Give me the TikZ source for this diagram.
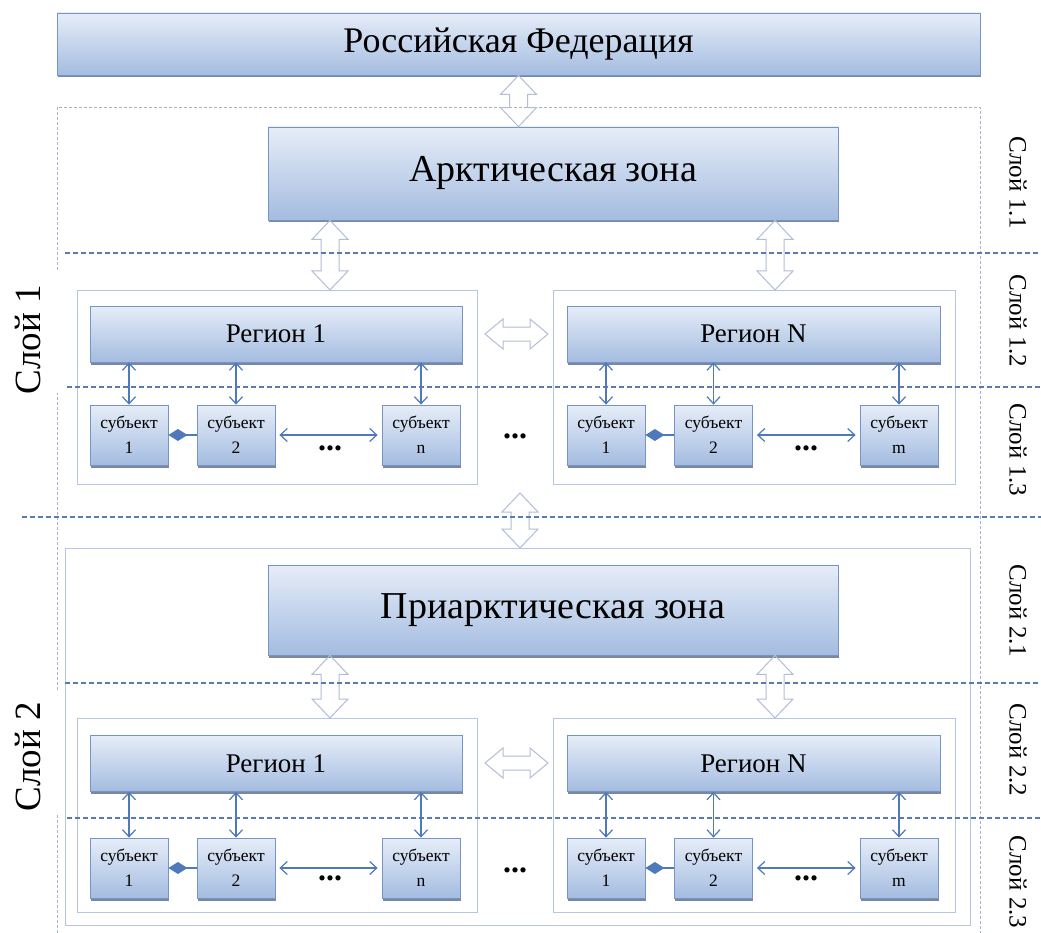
\documentclass[tikz,border=0pt]{standalone}
\usepackage{fontspec}
\setmainfont{Liberation Serif}
\usetikzlibrary{arrows.meta,shadows,calc}
\definecolor{boxtop}{RGB}{230,237,248}
\definecolor{boxbot}{RGB}{164,188,224}
\definecolor{boxline}{RGB}{118,148,198}
\definecolor{shadowc}{RGB}{80,95,125}
\definecolor{contline}{RGB}{182,197,224}
\definecolor{outerline}{RGB}{165,178,205}
\definecolor{layerline}{RGB}{88,122,178}
\definecolor{arrowc}{RGB}{78,122,188}
\definecolor{hollowc}{RGB}{178,190,214}
\newcommand\hollowV[2]{\draw[hollow] let \p1=(#1), \p2=(#2) in
 (\x1,\y1) -- (\x1+18pt,\y1-19pt) -- (\x1+9pt,\y1-19pt) -- (\x1+9pt,\y2+19pt) -- (\x1+18pt,\y2+19pt) -- (\x1,\y2)
 -- (\x1-18pt,\y2+19pt) -- (\x1-9pt,\y2+19pt) -- (\x1-9pt,\y1-19pt) -- (\x1-18pt,\y1-19pt) -- cycle;}
\newcommand\hollowH[2]{\draw[hollow] let \p1=(#1), \p2=(#2) in
 (\x1,\y1) -- (\x1+18pt,\y1+15pt) -- (\x1+18pt,\y1+7pt) -- (\x2-18pt,\y1+7pt) -- (\x2-18pt,\y1+15pt) -- (\x2,\y1)
 -- (\x2-18pt,\y1-15pt) -- (\x2-18pt,\y1-7pt) -- (\x1+18pt,\y1-7pt) -- (\x1+18pt,\y1-15pt) -- cycle;}
\begin{document}
\begin{tikzpicture}[x=1pt,y=-1pt,
 box/.style={draw=boxline, line width=0.8pt, top color=boxtop, bottom color=boxbot,
   drop shadow={shadow xshift=0.5pt, shadow yshift=-2.5pt, fill=shadowc, opacity=0.75},
   inner sep=0pt, text=black, align=center},
 bigbox/.style={box, font=\fontsize{36}{40}\selectfont},
 regbox/.style={box, minimum height=56pt, font=\fontsize{27}{30}\selectfont},
 subbox/.style={box, minimum width=78pt, minimum height=60pt, font=\fontsize{17.5}{25}\selectfont},
 container/.style={draw=contline, line width=0.9pt},
 outer/.style={draw=outerline, line width=0.7pt, dash pattern=on 3pt off 2pt},
 layer/.style={draw=layerline, line width=1.1pt, dash pattern=on 5pt off 3pt},
 hollow/.style={draw=hollowc, line width=1pt, line join=miter},
 thin/.style={draw=arrowc, line width=1.2pt, {Straight Barb[length=7pt,width=13pt,line width=1.2pt]}-{Straight Barb[length=7pt,width=13pt,line width=1.2pt]}},
 diam/.style={draw=arrowc, line width=1.2pt, {Diamond[length=19pt,width=12pt]}-},
 dots/.style={font=\bfseries\fontsize{32}{32}\selectfont, inner sep=0pt},
 lbig/.style={rotate=90, font=\fontsize{37}{40}\selectfont, inner sep=0pt},
 lsmall/.style={rotate=-90, font=\fontsize{25}{27}\selectfont, inner sep=0pt}
]
\useasboundingbox (0,0) rectangle (1041,933);
\fill[white] (0,0) rectangle (1041,933);

% outer frames
\draw[outer] (57,933) -- (57,813);
\draw[outer] (57,690) -- (57,393);
\draw[outer] (57,270) -- (57,107) -- (980,107) -- (980,933);
\draw[container] (65,548) rectangle (970,925);

% containers
\draw[container] (77,290) rectangle (477,484);
\draw[container] (553,290) rectangle (955,484);
\draw[container] (77,718) rectangle (477,912);
\draw[container] (553,718) rectangle (955,912);
\coordinate (c1t) at (277,290);
\coordinate (cNt) at (754,290);
\coordinate (c1b) at (277,718);
\coordinate (cNb) at (754,718);
\coordinate (c1e) at (477,334);
\coordinate (cNw) at (553,334);
\coordinate (c1e2) at (477,763);
\coordinate (cNw2) at (553,763);
\coordinate (l1bot) at (520,493);
\coordinate (l2top) at (520,548);
\coordinate (ax1) at (330,0);
\coordinate (ax2) at (775,0);

% main boxes
\node[bigbox, minimum width=923pt, minimum height=62pt] (rf) at (518.5,44) {Российская Федерация};
\node[bigbox, minimum width=570pt, minimum height=93pt, font=\fontsize{38}{40}\selectfont] (arc) at (553,173.5) {Арктическая зона};
\node[bigbox, minimum width=570pt, minimum height=90pt, font=\fontsize{38}{40}\selectfont] (parc) at (553,610) {Приарктическая зона};

% layer 1 regions
\node[regbox, minimum width=372pt] (r1) at (276,334) {Регион 1};
\node[regbox, minimum width=373pt] (rN) at (753.5,334) {Регион N};
\node[subbox] (a1) at (129,435) {субъект\\1};
\node[subbox] (a2) at (236,435) {субъект\\2};
\node[subbox] (an) at (421,435) {субъект\\n};
\node[subbox] (b1) at (606,435) {субъект\\1};
\node[subbox] (b2) at (713.5,435) {субъект\\2};
\node[subbox] (bm) at (899,435) {субъект\\m};

% layer 2 regions
\node[regbox, minimum width=372pt] (q1) at (276,763.5) {Регион 1};
\node[regbox, minimum width=373pt] (qN) at (753.5,763.5) {Регион N};
\node[subbox] (d1) at (129,868) {субъект\\1};
\node[subbox] (d2) at (236,868) {субъект\\2};
\node[subbox] (dn) at (421,868) {субъект\\n};
\node[subbox] (e1) at (606,868) {субъект\\1};
\node[subbox] (e2) at (713.5,868) {субъект\\2};
\node[subbox] (em) at (899,868) {субъект\\m};

% dots
\node[dots] (t1) at (330,448) {...};
\node[dots] (t2) at (515,436) {...};
\node[dots] (t3) at (806,448) {...};
\node[dots] (t4) at (330,878) {...};
\node[dots] (t5) at (515,870) {...};
\node[dots] (t6) at (806,878) {...};

% hollow arrows
\hollowV{rf.south}{arc.north -| rf.south}
\hollowV{arc.south -| ax1}{c1t -| ax1}
\hollowV{arc.south -| ax2}{cNt -| ax2}
\hollowV{l1bot}{l2top}
\hollowV{parc.south -| ax1}{c1b -| ax1}
\hollowV{parc.south -| ax2}{cNb -| ax2}
\hollowH{$(c1e)+(8,0)$}{$(cNw)+(-5,0)$}
\hollowH{$(c1e2)+(8,0)$}{$(cNw2)+(-5,0)$}

% thin arrows
\foreach \s/\r in {a1/r1,a2/r1,an/r1,b1/rN,b2/rN,bm/rN,d1/q1,d2/q1,dn/q1,e1/qN,e2/qN,em/qN}
  \draw[thin] (\s.north |- \r.south) -- (\s.north);
\foreach \p/\q in {a2/an,b2/bm,d2/dn,e2/em}
  \draw[thin, shorten <=4pt, shorten >=4pt] (\p) -- (\q);
\foreach \p/\q in {a1/a2,b1/b2,d1/d2,e1/e2}
  \draw[diam] (\p) -- (\q);

% layer dashed lines
\draw[layer] (65,253) -- (1041,253);
\draw[layer] (67,387) -- (1041,387);
\draw[layer] (22,517) -- (1041,517);
\draw[layer] (65,683) -- (1041,683);
\draw[layer] (67,818) -- (1041,818);

% labels
\node[lbig] (L1) at (28,340) {Слой 1};
\node[lbig] (L2) at (28,757) {Слой 2};
\node[lsmall] (L11) at (1018,183) {Слой 1.1};
\node[lsmall] (L12) at (1018,321) {Слой 1.2};
\node[lsmall] (L13) at (1018,450) {Слой 1.3};
\node[lsmall] (L21) at (1018,611) {Слой 2.1};
\node[lsmall] (L22) at (1018,750) {Слой 2.2};
\node[lsmall] (L23) at (1018,882) {Слой 2.3};
\end{tikzpicture}
\end{document}
